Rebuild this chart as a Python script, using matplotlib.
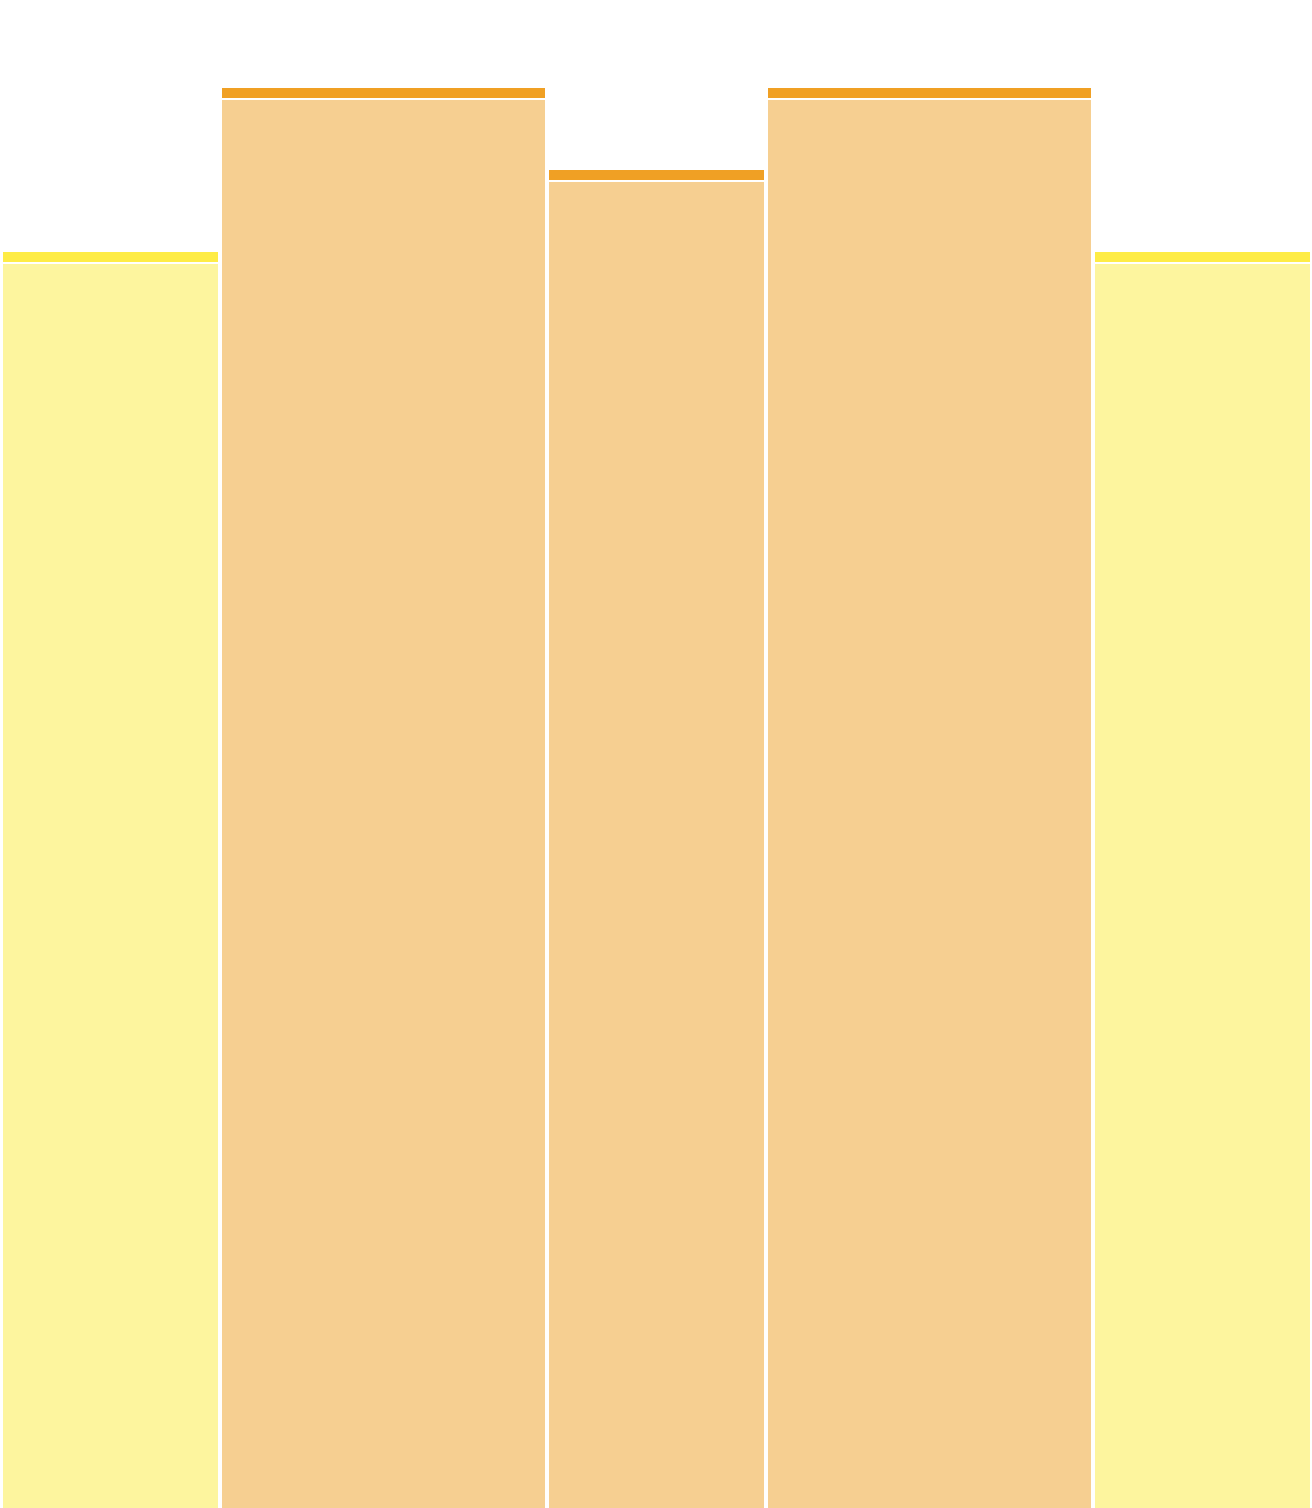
import matplotlib
matplotlib.use("Agg")
import matplotlib.pyplot as plt
import numpy as np

# Data
categories = ["A", "B", "C", "D", "E"]
widths = [2, 3, 2, 3, 2]
values = [15.32, 17.32, 16.32, 17.32, 15.32]
groups = ["yellow", "orange", "orange", "orange", "yellow"]

fill_colors = {"yellow": "#FDF59E", "orange": "#F6CF91"}
band_colors = {"yellow": "#FEEC45", "orange": "#F0A024"}

W, H = 1312, 1508
fig = plt.figure(figsize=(W / 100, H / 100), dpi=100)
ax = fig.add_axes([0, 0, 1, 1])

ymax = 18.39
px_x = 0  # computed below
total_units = sum(widths)
left_px, right_px, gap_px = 3, 2, 4
unit_px = (W - left_px - right_px - gap_px * (len(widths) - 1)) / total_units
# data x unit = 1 width unit
gap = gap_px / unit_px
x0 = -left_px / unit_px
xmax = total_units + gap * (len(widths) - 1) + right_px / unit_px
ax.set_xlim(x0, xmax)
ax.set_ylim(0, ymax)

py = ymax / H  # data per pixel in y
band = 10.5 * py
line = 1.3 * py

lefts = np.concatenate([[0], np.cumsum(np.array(widths) + gap)[:-1]])
for l, w, v, g in zip(lefts, widths, values, groups):
    ax.bar(l, v - band - line, width=w, bottom=0, align="edge",
           color=fill_colors[g], linewidth=0)
    ax.bar(l, band, width=w, bottom=v - band, align="edge",
           color=band_colors[g], linewidth=0)

ax.axis("off")
fig.savefig("out.png", dpi=100, facecolor="white")
